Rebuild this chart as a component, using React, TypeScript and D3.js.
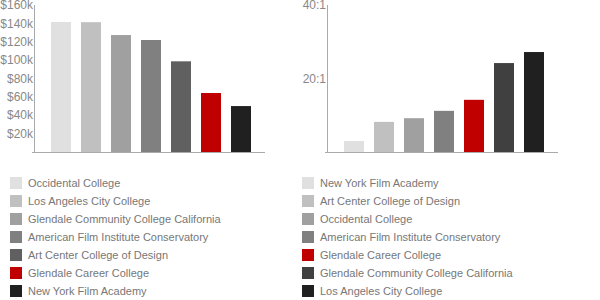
import React, { useEffect, useRef } from "react";
import * as d3 from "d3";

// salary chart (left)
const salaryNames = [
  "Occidental College",
  "Los Angeles City College",
  "Glendale Community College California",
  "American Film Institute Conservatory",
  "Art Center College of Design",
  "Glendale Career College",
  "New York Film Academy",
];
const salaryValues = [141500, 141300, 127300, 121900, 98700, 64200, 50000];
const salaryColors = ["#e0e0e0", "#c0c0c0", "#a0a0a0", "#808080", "#606060", "#c00000", "#202020"];
const salaryTicks = [20000, 40000, 60000, 80000, 100000, 120000, 140000, 160000];

// student-faculty ratio chart (right)
const ratioNames = [
  "New York Film Academy",
  "Art Center College of Design",
  "Occidental College",
  "American Film Institute Conservatory",
  "Glendale Career College",
  "Glendale Community College California",
  "Los Angeles City College",
];
const ratioValues = [3, 8.2, 9.2, 11.2, 14.2, 24.2, 27.2];
const ratioColors = ["#e0e0e0", "#c0c0c0", "#a0a0a0", "#808080", "#c00000", "#404040", "#202020"];
const ratioTicks = [20, 40];

const FONT = "'Liberation Sans', Arial, sans-serif";

export default function App() {
  const ref = useRef<SVGSVGElement>(null);

  useEffect(() => {
    const svg = d3.select(ref.current);
    svg.selectAll("*").remove();

    const drawPanel = (
      axisX: number,
      names: string[],
      values: number[],
      colors: string[],
      ticks: number[],
      max: number,
      fmt: (v: number) => string,
      legendX: number
    ) => {
      const g = svg.append("g");
      const y = d3.scaleLinear().domain([0, max]).range([152, 5]);
      const x = d3
        .scaleBand<number>()
        .domain(d3.range(names.length))
        .range([axisX + 12, axisX + 222])
        .paddingInner(1 / 3)
        .paddingOuter(1 / 6);

      //bars
      g.selectAll("rect.bar")
        .data(values)
        .enter()
        .append("rect")
        .attr("class", "bar")
        .attr("x", (_, i) => x(i)!)
        .attr("y", d => y(d))
        .attr("width", x.bandwidth())
        .attr("height", d => y(0) - y(d))
        .attr("fill", (_, i) => colors[i]);

      //axes
      g.append("line")
        .attr("x1", axisX + 0.5)
        .attr("x2", axisX + 0.5)
        .attr("y1", y(max))
        .attr("y2", y(0))
        .attr("stroke", "#aaa");
      g.append("line")
        .attr("x1", axisX - 2)
        .attr("x2", axisX + 231)
        .attr("y1", y(0) + 0.5)
        .attr("y2", y(0) + 0.5)
        .attr("stroke", "#aaa");

      g.selectAll("text.tick")
        .data(ticks)
        .enter()
        .append("text")
        .attr("class", "tick")
        .attr("x", axisX - 1)
        .attr("y", d => y(d))
        .attr("dy", "0.35em")
        .attr("text-anchor", "end")
        .attr("font-size", 12)
        .attr("font-family", FONT)
        .attr("fill", "#888")
        .text(d => fmt(d));

      //legend
      const leg = g
        .selectAll("g.leg")
        .data(names)
        .enter()
        .append("g")
        .attr("class", "leg")
        .attr("transform", (_, i) => `translate(${legendX}, ${177 + i * 18})`);
      leg.append("rect")
        .attr("width", 12)
        .attr("height", 12)
        .attr("fill", (_, i) => colors[i]);
      leg.append("text")
        .attr("x", 18)
        .attr("y", 6)
        .attr("dy", "0.35em")
        .attr("font-size", 11)
        .attr("font-family", FONT)
        .attr("fill", "#777")
        .text(d => d);
    };

    drawPanel(34, salaryNames, salaryValues, salaryColors, salaryTicks, 160000, v => `$${v / 1000}k`, 10);
    drawPanel(327, ratioNames, ratioValues, ratioColors, ratioTicks, 40, v => `${v}:1`, 302);
  }, []);

  return (
    <svg
      ref={ref}
      width={600}
      height={300}
      style={{ position: "absolute", left: 0, top: 0, background: "#fff" }}
    />
  );
}
